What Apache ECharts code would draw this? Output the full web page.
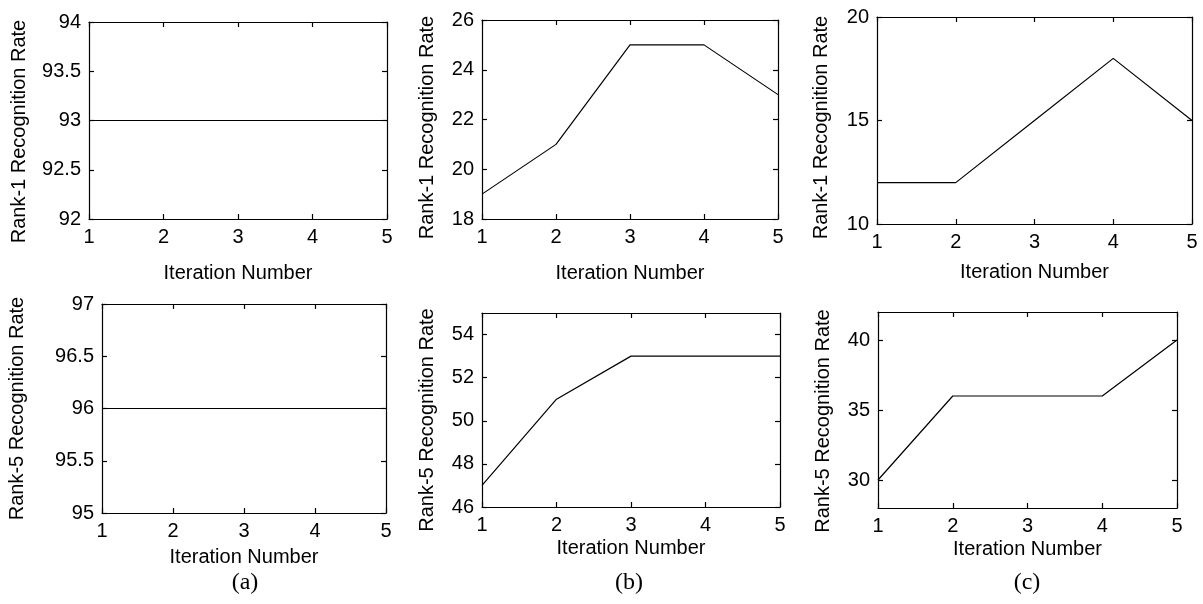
<!DOCTYPE html>
<html>
<head>
<meta charset="utf-8">
<script src="https://cdn.jsdelivr.net/npm/echarts@6/dist/echarts.min.js"></script>
<style>
  html, body { margin: 0; padding: 0; background: #fff; }
  #chart { width: 1203px; height: 604px; }
</style>
</head>
<body>
<div id="chart"></div>
<script>
// data
const iterations = [1, 2, 3, 4, 5];
const rank1A = [93, 93, 93, 93, 93];
const rank1B = [19, 21, 25, 25, 23];
const rank1C = [12, 12, 15, 18, 15];
const rank5A = [96, 96, 96, 96, 96];
const rank5B = [47, 51, 53, 53, 53];
const rank5C = [30, 36, 36, 36, 40];

const ticksA1 = [92, 92.5, 93, 93.5, 94];
const ticksB1 = [18, 20, 22, 24, 26];
const ticksC1 = [10, 15, 20];
const ticksA2 = [95, 95.5, 96, 96.5, 97];
const ticksB2 = [46, 48, 50, 52, 54];
const ticksC2 = [30, 35, 40];

const captions = ['(a)', '(b)', '(c)'];

const FONT = 'Liberation Sans';
const BLACK = '#000';

// one entry per subplot: where it sits, its y range and ticks
const panels = [
  { box: [89, 22, 298, 197], y: [92, 94], ticks: ticksA1, values: rank1A, yName: 'Rank-1 Recognition Rate', yGap: 60, xGap: 44, shift: 22 },
  { box: [482, 20, 296, 199], y: [18, 26], ticks: ticksB1, values: rank1B, yName: 'Rank-1 Recognition Rate', yGap: 45, xGap: 44, shift: 16 },
  { box: [877, 17, 315, 207], y: [10, 20], ticks: ticksC1, values: rank1C, yName: 'Rank-1 Recognition Rate', yGap: 46, xGap: 38, shift: 14 },
  { box: [102, 304, 284, 209], y: [95, 97], ticks: ticksA2, values: rank5A, yName: 'Rank-5 Recognition Rate', yGap: 75, xGap: 34, shift: 0 },
  { box: [482, 313, 298, 194], y: [46, 55], ticks: ticksB2, values: rank5B, yName: 'Rank-5 Recognition Rate', yGap: 45, xGap: 31, shift: 20 },
  { box: [878, 312, 299, 196], y: [28, 42], ticks: ticksC2, values: rank5C, yName: 'Rank-5 Recognition Rate', yGap: 45, xGap: 31, shift: 22 },
];

const lineStyle = { color: BLACK, width: 1.2 };
const labelStyle = { color: BLACK, fontFamily: FONT, fontSize: 20 };

const grid = [];
const xAxis = [];
const yAxis = [];
const series = [];

panels.forEach((p, i) => {
  grid.push({ left: p.box[0], top: p.box[1], width: p.box[2], height: p.box[3] });

  // bottom x axis with labels
  xAxis.push({
    type: 'value', gridIndex: i, position: 'bottom', min: 1, max: 5, interval: 1,
    name: 'Iteration Number', nameLocation: 'middle', nameGap: p.xGap,
    nameTextStyle: { color: BLACK, fontFamily: FONT, fontSize: 20 },
    axisLine: { lineStyle: lineStyle },
    axisTick: { inside: true, length: 5, lineStyle: lineStyle },
    axisLabel: Object.assign({ margin: 8 }, labelStyle),
    splitLine: { show: false },
  });
  // top x axis: only ticks, to close the box
  xAxis.push({
    type: 'value', gridIndex: i, position: 'top', min: 1, max: 5, interval: 1,
    axisLine: { lineStyle: lineStyle },
    axisTick: { inside: true, length: 5, lineStyle: lineStyle },
    axisLabel: { show: false },
    splitLine: { show: false },
  });

  yAxis.push({
    type: 'value', gridIndex: i, position: 'left', min: p.y[0], max: p.y[1],
    name: p.yName, nameLocation: 'middle', nameGap: p.yGap,
    nameTextStyle: { color: BLACK, fontFamily: FONT, fontSize: 20, padding: [0, p.shift, 0, 0] },
    axisLine: { show: true, lineStyle: lineStyle },
    axisTick: { inside: true, length: 5, lineStyle: lineStyle, customValues: p.ticks },
    axisLabel: Object.assign({ margin: 8, customValues: p.ticks }, labelStyle),
    splitLine: { show: false },
  });
  yAxis.push({
    type: 'value', gridIndex: i, position: 'right', min: p.y[0], max: p.y[1],
    axisLine: { show: true, lineStyle: lineStyle },
    axisTick: { inside: true, length: 5, lineStyle: lineStyle, customValues: p.ticks },
    axisLabel: { show: false },
    splitLine: { show: false },
  });

  series.push({
    type: 'line',
    xAxisIndex: i * 2,
    yAxisIndex: i * 2,
    data: iterations.map((it, k) => [it, p.values[k]]),
    showSymbol: false,
    lineStyle: { color: BLACK, width: 1.2 },
    animation: false,
  });
});

const captionX = [245, 629, 1027];

const chart = echarts.init(document.getElementById('chart'), null, { renderer: 'canvas' });
chart.setOption({
  backgroundColor: '#fff',
  animation: false,
  grid: grid,
  xAxis: xAxis,
  yAxis: yAxis,
  series: series,
  graphic: captions.map((c, i) => ({
    type: 'text',
    x: captionX[i],
    y: 583,
    style: {
      text: c,
      fill: BLACK,
      font: '24px "Liberation Serif"',
      textAlign: 'center',
      textVerticalAlign: 'middle',
    },
  })),
});
</script>
</body>
</html>
